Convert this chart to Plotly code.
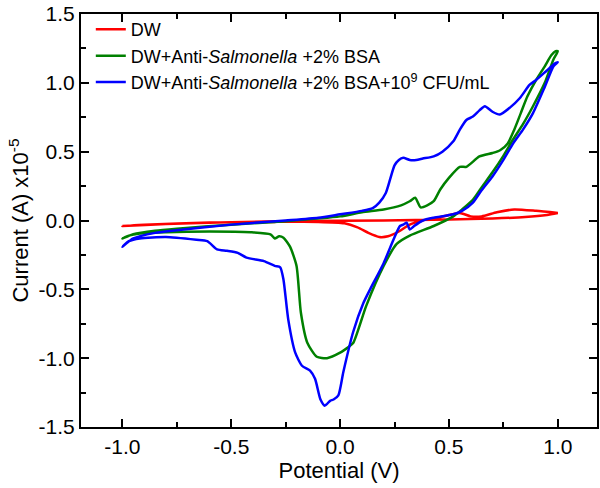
import plotly.graph_objects as go

# ---- data (potential V, current x1e-5 A) ----
dw_v = [-1.0, -0.8, -0.5, -0.2, 0.2, 0.5, 0.7, 0.85, 0.95, 1.0,
        1.0, 0.9, 0.8, 0.72, 0.65, 0.6, 0.55, 0.5, 0.45, 0.38, 0.32, 0.27, 0.22, 0.18, 0.13, 0.08, 0.02, -0.1, -0.3, -0.6, -0.9, -1.0]
dw_i = [-0.04, -0.025, -0.012, -0.004, 0.0, 0.008, 0.015, 0.025, 0.04, 0.055,
        0.055, 0.07, 0.08, 0.06, 0.03, 0.03, 0.055, 0.04, 0.02, 0.0, -0.03, -0.08, -0.115, -0.12, -0.09, -0.05, -0.02, -0.01, -0.01, -0.015, -0.03, -0.04]

bsa_v = [-1.0, -0.95, -0.85, -0.75, -0.5, -0.25, 0.0, 0.1, 0.2, 0.28, 0.32, 0.345, 0.37, 0.4, 0.43, 0.46, 0.5, 0.55, 0.58, 0.64, 0.7, 0.735, 0.77, 0.8, 0.83, 0.86, 0.9, 0.94, 0.97, 0.99, 1.0,
         0.98, 0.94, 0.886, 0.84, 0.795, 0.75, 0.7, 0.65, 0.61, 0.56, 0.52, 0.43, 0.32, 0.26, 0.2, 0.12, 0.06, 0.037, 0.0, -0.06, -0.107, -0.15, -0.18, -0.2, -0.23, -0.26, -0.28, -0.3, -0.32, -0.41, -0.6, -0.8, -0.92, -0.97, -1.0]
bsa_i = [-0.13, -0.1, -0.075, -0.06, -0.03, -0.005, 0.03, 0.06, 0.08, 0.11, 0.14, 0.165, 0.095, 0.11, 0.14, 0.225, 0.31, 0.39, 0.39, 0.465, 0.49, 0.51, 0.56, 0.66, 0.78, 0.90, 1.02, 1.12, 1.2, 1.23, 1.23,
         1.17, 1.0, 0.83, 0.7, 0.59, 0.47, 0.35, 0.24, 0.15, 0.08, 0.03, -0.04, -0.11, -0.17, -0.33, -0.62, -0.89, -0.92, -0.96, -1.0, -0.99, -0.89, -0.67, -0.33, -0.19, -0.125, -0.115, -0.13, -0.1, -0.085, -0.08, -0.085, -0.095, -0.11, -0.13]

cfu_v = [-1.0, -0.95, -0.85, -0.75, -0.5, -0.25, -0.1, 0.0, 0.1, 0.15, 0.18, 0.21, 0.23, 0.25, 0.27, 0.29, 0.32, 0.35, 0.38, 0.43, 0.47, 0.52, 0.55, 0.58, 0.61, 0.64, 0.665, 0.70, 0.734, 0.78, 0.826, 0.87, 0.90, 0.95, 0.986, 1.0,
         0.98, 0.94, 0.886, 0.84, 0.795, 0.75, 0.70, 0.65, 0.61, 0.56, 0.52, 0.43, 0.38, 0.34, 0.32, 0.306, 0.29, 0.275, 0.245, 0.2, 0.138, 0.107, 0.06, 0.015, -0.008, -0.03, -0.046, -0.07, -0.09, -0.115, -0.138, -0.175, -0.206, -0.238, -0.26, -0.275, -0.3, -0.35, -0.43, -0.47, -0.52, -0.565, -0.61, -0.66, -0.8, -0.92, -0.97, -1.0]
cfu_i = [-0.19, -0.13, -0.09, -0.07, -0.03, 0.0, 0.02, 0.045, 0.07, 0.09, 0.13, 0.2, 0.3, 0.4, 0.44, 0.455, 0.44, 0.44, 0.45, 0.466, 0.5, 0.575, 0.66, 0.73, 0.755, 0.8, 0.83, 0.79, 0.77, 0.82, 0.89, 0.985, 1.02, 1.09, 1.14, 1.15,
         1.12, 0.97, 0.78, 0.66, 0.56, 0.44, 0.32, 0.22, 0.13, 0.07, 0.045, 0.02, 0.0, -0.04, -0.065, -0.016, -0.03, -0.04, -0.14, -0.31, -0.5, -0.6, -0.81, -1.1, -1.27, -1.3, -1.31, -1.345, -1.3, -1.15, -1.09, -1.055, -0.96, -0.72, -0.43, -0.34, -0.33, -0.295, -0.27, -0.235, -0.22, -0.21, -0.15, -0.14, -0.12, -0.13, -0.15, -0.19]

x_tickvals = [-1.0, -0.5, 0.0, 0.5, 1.0]
x_ticktext = ["-1.0", "-0.5", "0.0", "0.5", "1.0"]
y_tickvals = [-1.5, -1.0, -0.5, 0.0, 0.5, 1.0, 1.5]
y_ticktext = ["-1.5", "-1.0", "-0.5", "0.0", "0.5", "1.0", "1.5"]

names = ["DW",
         "DW+Anti-<i>Salmonella</i> +2% BSA",
         "DW+Anti-<i>Salmonella</i> +2% BSA+10<sup>9</sup> CFU/mL"]
colors = ["#ff0000", "#008000", "#0000ff"]

FONT = "Liberation Sans, Arial, Helvetica, sans-serif"

fig = go.Figure()
for v, i, n, c in [(dw_v, dw_i, names[0], colors[0]),
                   (bsa_v, bsa_i, names[1], colors[1]),
                   (cfu_v, cfu_i, names[2], colors[2])]:
    fig.add_trace(go.Scatter(x=v, y=i, mode="lines", name=n,
                             line=dict(color=c, width=2.5, shape="spline", smoothing=0.6)))

axis_common = dict(showline=True, linecolor="black", linewidth=2, mirror="ticks",
                   ticks="inside", ticklen=8, tickwidth=2, tickcolor="black",
                   showgrid=False, zeroline=False, automargin=False,
                   tickfont=dict(family=FONT, size=21, color="black"),
                   minor=dict(ticks="inside", ticklen=5, tickwidth=2, tickcolor="black", dtick=0.25, showgrid=False))

fig.update_xaxes(range=[-1.19, 1.18], tickmode="array", tickvals=x_tickvals, ticktext=x_ticktext,
                 title=dict(text="Potential (V)", font=dict(family=FONT, size=22, color="black"), standoff=1),
                 **axis_common)
fig.update_yaxes(range=[-1.5, 1.5], tickmode="array", tickvals=y_tickvals, ticktext=y_ticktext,
                 title=dict(text="Current (A) x10<sup>-5</sup>", font=dict(family=FONT, size=22, color="black"), standoff=4),
                 **axis_common)

fig.update_layout(
    width=600, height=488,
    margin=dict(l=81, r=3, t=14, b=61),
    plot_bgcolor="white", paper_bgcolor="white",
    font=dict(family=FONT, color="black"),
    showlegend=True,
    legend=dict(x=0.019, y=1.007, xanchor="left", yanchor="top",
                bgcolor="rgba(0,0,0,0)", borderwidth=0,
                font=dict(family=FONT, size=18, color="black"),
                tracegroupgap=0),
)

# remove the default page-body margin so the 600x488 figure fills the window exactly
fig.write_html("out.html", config={"displayModeBar": False},
               post_script="document.body.style.margin='0px';")
